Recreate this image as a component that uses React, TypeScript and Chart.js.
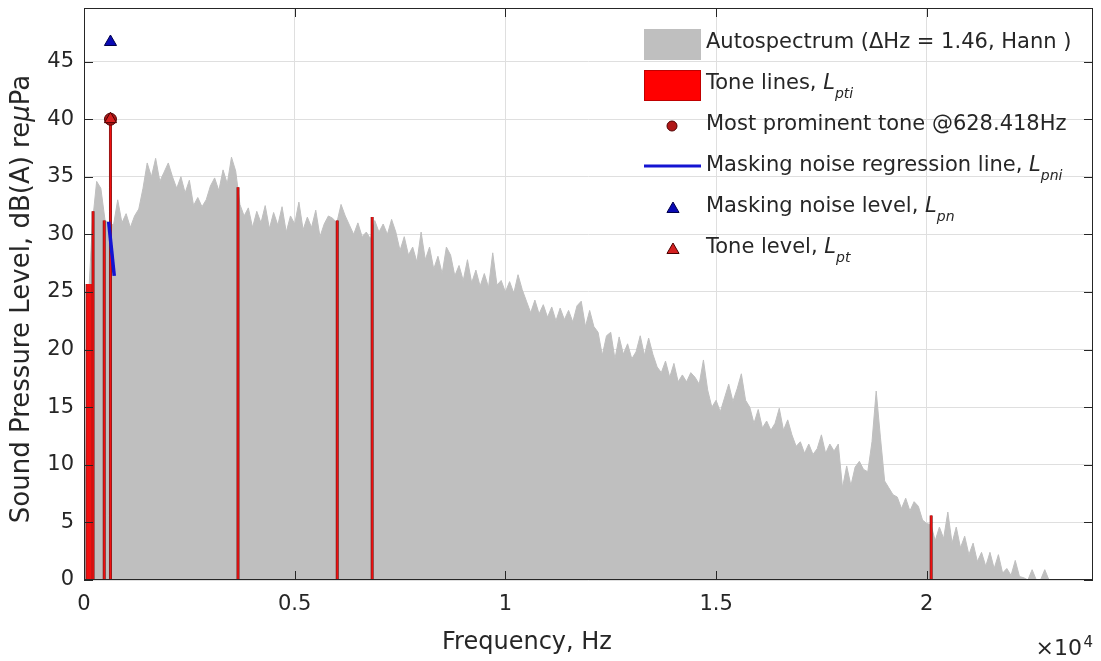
import React, { useEffect, useRef } from 'react';
import { Chart, registerables } from 'chart.js';

Chart.register(...registerables);

// ---------- data ----------
const BIN_START_HZ = 0;
const BIN_WIDTH_HZ = 100;
// Autospectrum levels, dB(A), one value per 100 Hz bin starting at 0 Hz
const autospectrumDb = [
  0, 24.0, 31.0, 34.6, 34.0, 31.2, 31.0, 30.8, 33.0, 31.0,
  31.8, 30.6, 31.6, 32.2, 34.0, 36.2, 35.0, 36.6, 34.6, 35.4,
  36.2, 35.0, 34.0, 35.0, 33.6, 34.7, 32.5, 33.2, 32.4, 33.0,
  34.2, 34.9, 33.8, 35.6, 34.4, 36.7, 35.5, 32.6, 31.6, 32.3,
  30.6, 32.0, 31.0, 32.5, 30.5, 31.9, 30.8, 32.4, 30.2, 31.6,
  30.9, 32.8, 30.4, 31.5, 30.6, 32.1, 29.8, 30.9, 31.6, 31.4,
  31.0, 32.6, 31.6, 30.8, 30.0, 31.0, 29.8, 30.2, 29.6, 31.2,
  30.2, 30.9, 30.0, 31.3, 30.2, 28.6, 29.8, 28.2, 28.9, 27.6,
  30.2, 27.8, 28.9, 27.0, 28.1, 26.6, 28.9, 28.2, 26.4, 27.3,
  26.0, 27.8, 25.8, 26.9, 25.5, 26.6, 25.4, 28.4, 25.6, 26.0,
  25.0, 25.9, 24.9, 26.5, 25.2, 24.2, 23.2, 24.3, 23.1, 23.9,
  22.8, 23.7, 22.5, 23.6, 22.6, 23.4, 22.4, 23.8, 24.2, 22.0,
  23.4, 22.0, 21.5, 19.5, 21.2, 21.5, 19.2, 21.1, 19.6, 20.5,
  19.2, 19.8, 21.2, 19.5, 21.0, 19.6, 18.5, 18.0, 19.0, 17.6,
  18.8, 17.2, 17.8, 17.2, 18.0, 17.6, 17.0, 19.1, 16.5, 15.0,
  15.6, 14.6, 15.8, 17.0, 15.5, 16.6, 17.9, 15.6, 15.0, 13.6,
  14.8, 13.2, 13.8, 13.0, 13.6, 14.9, 13.0, 13.9, 12.6, 11.6,
  12.0, 11.0, 11.8, 10.9, 11.4, 12.6, 11.0, 11.8, 11.2, 11.8,
  8.0, 9.9, 8.2, 9.8, 10.3, 9.6, 9.4, 12.0, 16.4, 12.4,
  8.6, 8.0, 7.4, 7.2, 6.2, 7.1, 6.0, 6.8, 6.4, 5.2,
  4.9, 4.8, 3.4, 4.6, 3.6, 5.9, 3.2, 4.6, 2.8, 3.8,
  2.2, 3.2, 1.6, 2.4, 1.2, 2.4, 1.0, 2.2, 0.6, 1.0,
  0.4, 1.7, 0.3, 0.2, 0, 0.9, 0, 0, 0.9, 0,
];

const toneFreqsHz = [75, 105, 135, 165, 215, 480, 628.418, 3655, 6010, 6839, 20105];
const toneLevelsDb = [25.7, 25.7, 25.7, 25.7, 32.0, 31.2, 40.0, 34.1, 31.2, 31.5, 5.6];

const regressionFreqsHz = [585, 718];
const regressionLevelsDb = [31.1, 26.4];

const prominentToneHz = [628.418];
const prominentToneDb = [40.0];
const maskingNoiseLevelDb = [46.7];
const toneLevelDb = [40.0];

const xTickValuesHz = [0, 5000, 10000, 15000, 20000];
const xTickLabels = ['0', '0.5', '1', '1.5', '2'];
const yTickValues = [0, 5, 10, 15, 20, 25, 30, 35, 40, 45];

const X_MAX_HZ = 23945;
const Y_MAX_DB = 49.65;

// ---------- styles ----------
const FONT = '"DejaVu Sans", sans-serif';
const TEXT = '#262626';
const GRID = '#dfdfdf';
const GREY = '#bfbfbf';
const RED = '#ff0000';
const BLUE = '#1414d2';

function drawTriangle(ctx: CanvasRenderingContext2D, x: number, y: number, r: number, fill: string, stroke: string) {
  ctx.beginPath();
  ctx.moveTo(x, y - r);
  ctx.lineTo(x + 0.866 * r, y + 0.5 * r);
  ctx.lineTo(x - 0.866 * r, y + 0.5 * r);
  ctx.closePath();
  ctx.fillStyle = fill;
  ctx.fill();
  ctx.strokeStyle = stroke;
  ctx.lineWidth = 1;
  ctx.stroke();
}

function drawRich(ctx: CanvasRenderingContext2D, parts: { t: string; font: string; dy?: number }[], x: number, y: number) {
  let cx = x;
  for (const p of parts) {
    ctx.font = p.font;
    ctx.fillText(p.t, cx, y + (p.dy || 0));
    cx += ctx.measureText(p.t).width;
  }
}

function richWidth(ctx: CanvasRenderingContext2D, parts: { t: string; font: string }[]) {
  let w = 0;
  for (const p of parts) {
    ctx.font = p.font;
    w += ctx.measureText(p.t).width;
  }
  return w;
}

const overlayPlugin = {
  id: 'overlay',
  afterDraw(chart: any) {
    const { ctx, chartArea: ca, scales } = chart;
    const xs = scales.x;
    const ys = scales.y;
    ctx.save();

    // axes box
    ctx.strokeStyle = TEXT;
    ctx.lineWidth = 1;
    ctx.strokeRect(ca.left + 0.5, ca.top + 0.5, ca.right - ca.left - 1, ca.bottom - ca.top - 1);

    // inward ticks
    const TL = 9;
    ctx.beginPath();
    for (const v of xTickValuesHz) {
      const px = Math.round(xs.getPixelForValue(v)) + 0.5;
      ctx.moveTo(px, ca.bottom);
      ctx.lineTo(px, ca.bottom - TL);
      ctx.moveTo(px, ca.top);
      ctx.lineTo(px, ca.top + TL);
    }
    for (const v of yTickValues) {
      const py = Math.round(ys.getPixelForValue(v)) + 0.5;
      ctx.moveTo(ca.left, py);
      ctx.lineTo(ca.left + TL, py);
      ctx.moveTo(ca.right, py);
      ctx.lineTo(ca.right - TL, py);
    }
    ctx.stroke();

    // axis titles
    ctx.fillStyle = TEXT;
    ctx.textBaseline = 'alphabetic';
    ctx.textAlign = 'center';
    ctx.font = `24px ${FONT}`;
    ctx.fillText('Frequency, Hz', 527, 649);

    ctx.save();
    ctx.translate(29, 299);
    ctx.rotate(-Math.PI / 2);
    ctx.textAlign = 'left';
    const yParts = [
      { t: 'Sound Pressure Level, dB(A) re', font: `26px ${FONT}` },
      { t: 'μ', font: `italic 26px ${FONT}` },
      { t: 'Pa', font: `26px ${FONT}` },
    ];
    const yw = richWidth(ctx, yParts);
    drawRich(ctx, yParts, -yw / 2, 0);
    ctx.restore();

    // x10^4 multiplier
    ctx.textAlign = 'right';
    ctx.font = `15px ${FONT}`;
    ctx.fillText('4', 1093, 647);
    ctx.font = `22px ${FONT}`;
    ctx.fillText('×10', 1082, 655);

    // legend
    ctx.textAlign = 'left';
    const tx = 706;
    const base = [47.5, 88.5, 129.5, 170.5, 211.5, 253];
    const f = `21px ${FONT}`;
    const fi = `italic 21px ${FONT}`;
    const fs = `italic 14px ${FONT}`;

    ctx.fillStyle = GREY;
    ctx.fillRect(644, 29, 57, 31);
    ctx.fillStyle = RED;
    ctx.fillRect(644, 70, 57, 31);
    ctx.strokeStyle = '#c00000';
    ctx.lineWidth = 1;
    ctx.strokeRect(644.5, 70.5, 56, 30);

    ctx.beginPath();
    ctx.arc(672, 126, 5, 0, Math.PI * 2);
    ctx.fillStyle = '#b01818';
    ctx.fill();
    ctx.strokeStyle = '#500000';
    ctx.stroke();

    ctx.beginPath();
    ctx.moveTo(644, 166);
    ctx.lineTo(701, 166);
    ctx.strokeStyle = BLUE;
    ctx.lineWidth = 3;
    ctx.stroke();

    drawTriangle(ctx, 673, 209, 7, '#0a0ab4', '#00004a');
    drawTriangle(ctx, 673, 250, 7, '#d42020', '#4a0000');

    ctx.fillStyle = TEXT;
    drawRich(ctx, [{ t: 'Autospectrum (ΔHz = 1.46, Hann )', font: f }], tx, base[0]);
    drawRich(ctx, [
      { t: 'Tone lines, ', font: f },
      { t: 'L', font: fi },
      { t: 'pti', font: fs, dy: 9 },
    ], tx, base[1]);
    drawRich(ctx, [{ t: 'Most prominent tone @628.418Hz', font: f }], tx, base[2]);
    drawRich(ctx, [
      { t: 'Masking noise regression line, ', font: f },
      { t: 'L', font: fi },
      { t: 'pni', font: fs, dy: 9 },
    ], tx, base[3]);
    drawRich(ctx, [
      { t: 'Masking noise level, ', font: f },
      { t: 'L', font: fi },
      { t: 'pn', font: fs, dy: 9 },
    ], tx, base[4]);
    drawRich(ctx, [
      { t: 'Tone level, ', font: f },
      { t: 'L', font: fi },
      { t: 'pt', font: fs, dy: 9 },
    ], tx, base[5]);

    ctx.restore();
  },
};

export default function App() {
  const canvasRef = useRef<HTMLCanvasElement | null>(null);

  useEffect(() => {
    const canvas = canvasRef.current;
    if (!canvas) return;

    const spectrumPoints = autospectrumDb.map((v, i) => ({ x: BIN_START_HZ + i * BIN_WIDTH_HZ, y: v }));
    const stemPoints: { x: number; y: number | null }[] = [];
    toneFreqsHz.forEach((fq, i) => {
      stemPoints.push({ x: fq, y: 0 }, { x: fq, y: toneLevelsDb[i] }, { x: fq, y: null });
    });
    const regressionPoints = regressionFreqsHz.map((fq, i) => ({ x: fq, y: regressionLevelsDb[i] }));
    const prominentPoints = prominentToneHz.map((fq, i) => ({ x: fq, y: prominentToneDb[i] }));
    const maskingPoints = prominentToneHz.map((fq, i) => ({ x: fq, y: maskingNoiseLevelDb[i] }));
    const tonePoints = prominentToneHz.map((fq, i) => ({ x: fq, y: toneLevelDb[i] }));

    const chart = new Chart(canvas, {
      type: 'line',
      data: {
        datasets: [
          {
            label: 'Autospectrum',
            data: spectrumPoints,
            order: 10,
            tension: 0,
            fill: 'origin',
            backgroundColor: GREY,
            borderColor: GREY,
            borderWidth: 1,
            pointRadius: 0,
          } as any,
          {
            label: 'Tone lines edge',
            data: stemPoints,
            order: 9,
            spanGaps: false,
            borderColor: '#7a1a1a',
            borderWidth: 3,
            pointRadius: 0,
            fill: false,
          },
          {
            label: 'Tone lines',
            data: stemPoints,
            order: 8,
            spanGaps: false,
            borderColor: '#f01010',
            borderWidth: 1.6,
            pointRadius: 0,
            fill: false,
          },
          {
            label: 'Masking noise regression line',
            data: regressionPoints,
            order: 7,
            borderColor: BLUE,
            borderWidth: 3.5,
            pointRadius: 0,
            fill: false,
          },
          {
            label: 'Most prominent tone',
            data: prominentPoints,
            order: 6,
            showLine: false,
            pointStyle: 'circle',
            pointRadius: 6,
            pointBackgroundColor: '#b01818',
            pointBorderColor: '#500000',
            pointBorderWidth: 1,
          },
          {
            label: 'Tone level',
            data: tonePoints,
            order: 5,
            showLine: false,
            pointStyle: 'triangle',
            pointRadius: 7,
            pointBackgroundColor: '#d42020',
            pointBorderColor: '#4a0000',
            pointBorderWidth: 1,
          },
          {
            label: 'Masking noise level',
            data: maskingPoints,
            order: 4,
            showLine: false,
            pointStyle: 'triangle',
            pointRadius: 7,
            pointBackgroundColor: '#0a0ab4',
            pointBorderColor: '#00004a',
            pointBorderWidth: 1,
          },
        ],
      },
      options: {
        animation: false,
        responsive: false,
        devicePixelRatio: 1,
        layout: { padding: { top: 7, right: 8, left: 0, bottom: 0 } },
        plugins: { legend: { display: false }, tooltip: { enabled: false } },
        scales: {
          x: {
            type: 'linear',
            min: 0,
            max: X_MAX_HZ,
            afterBuildTicks: (s: any) => {
              s.ticks = xTickValuesHz.map((v) => ({ value: v }));
            },
            afterFit: (s: any) => {
              s.height = 81;
              s.paddingLeft = 0;
              s.paddingRight = 0;
              s.paddingTop = 0;
              s.paddingBottom = 0;
            },
            ticks: {
              callback: (v: any) => xTickLabels[xTickValuesHz.indexOf(Number(v))] ?? '',
              font: { family: FONT, size: 21 },
              color: TEXT,
              padding: 12,
              maxRotation: 0,
              autoSkip: false,
            },
            grid: { color: GRID, drawTicks: false, lineWidth: 1 },
            border: { display: false },
          },
          y: {
            type: 'linear',
            min: 0,
            max: Y_MAX_DB,
            afterBuildTicks: (s: any) => {
              s.ticks = yTickValues.map((v) => ({ value: v }));
            },
            afterFit: (s: any) => {
              s.width = 84;
              s.paddingLeft = 0;
              s.paddingRight = 0;
              s.paddingTop = 0;
              s.paddingBottom = 0;
            },
            ticks: {
              callback: (v: any) => String(v),
              font: { family: FONT, size: 21 },
              color: TEXT,
              padding: 10,
              autoSkip: false,
            },
            grid: { color: GRID, drawTicks: false, lineWidth: 1 },
            border: { display: false },
          },
        },
      },
      plugins: [overlayPlugin],
    } as any);

    return () => chart.destroy();
  }, []);

  return (
    <div style={{ position: 'fixed', left: 0, top: 0, width: 1101, height: 661, background: '#fff' }}>
      <canvas ref={canvasRef} width={1101} height={661} style={{ width: 1101, height: 661 }} />
    </div>
  );
}
